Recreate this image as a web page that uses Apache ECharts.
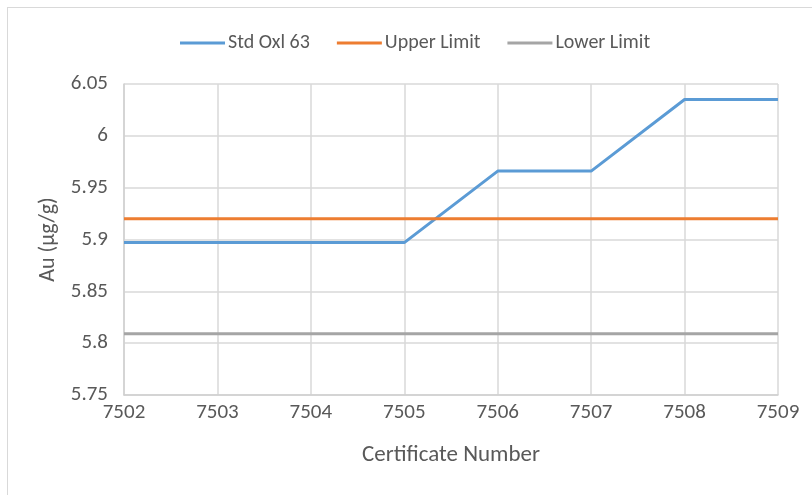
<!DOCTYPE html>
<html>
<head>
<meta charset="utf-8">
<script src="https://cdn.jsdelivr.net/npm/echarts@6/dist/echarts.min.js"></script>
<style>
  html, body { margin: 0; padding: 0; background: #fff; }
  #chart { width: 812px; height: 495px; }
  #frame { position: absolute; left: 7px; top: 7px; width: 820px; height: 500px; border: 1px solid #d9d9d9; pointer-events: none; }
</style>
</head>
<body>
<div id="chart"></div>
<div id="frame"></div>
<script>
const certificates = [7502, 7503, 7504, 7505, 7506, 7507, 7508, 7509];
const stdOxl63 = [5.897, 5.897, 5.897, 5.897, 5.966, 5.966, 6.035, 6.035];
const upperLimit = [5.92, 5.92, 5.92, 5.92, 5.92, 5.92, 5.92, 5.92];
const lowerLimit = [5.809, 5.809, 5.809, 5.809, 5.809, 5.809, 5.809, 5.809];
const yTicks = [5.75, 5.8, 5.85, 5.9, 5.95, 6, 6.05];

const font = 'Carlito, "Liberation Sans Narrow", "Open Sans", sans-serif';
const textColor = '#595959';

function pairs(ys) {
    return certificates.map((c, i) => [c, ys[i]]);
}

const chart = echarts.init(document.getElementById('chart'));
const option = {
    animation: false,
    textStyle: { fontFamily: font },
    color: ['#5b9bd5', '#ed7d31', '#a5a5a5'],
    legend: {
        top: 28,
        left: 175,
        itemWidth: 45,
        itemHeight: 3,
        itemGap: 27,
        icon: 'rect',
        textStyle: { fontFamily: font, fontSize: 20, color: textColor, padding: [0, 0, 0, -2] },
        data: ['Std Oxl 63', 'Upper Limit', 'Lower Limit']
    },
    grid: { left: 124, right: 34, top: 84, bottom: 100 },
    xAxis: {
        type: 'value',
        min: certificates[0],
        max: certificates[certificates.length - 1],
        interval: 1,
        name: 'Certificate Number',
        nameLocation: 'middle',
        nameGap: 49,
        nameTextStyle: { fontFamily: font, fontSize: 23, color: textColor },
        axisLine: { lineStyle: { color: '#d0d0d0', width: 1.5 } },
        axisTick: { show: false },
        splitLine: { show: true, lineStyle: { color: '#d9d9d9', width: 1.5 } },
        axisLabel: { fontFamily: font, fontSize: 21, color: textColor, margin: 7, formatter: v => String(v) }
    },
    yAxis: {
        type: 'value',
        min: yTicks[0],
        max: yTicks[yTicks.length - 1],
        interval: 0.05,
        name: 'Au (µg/g)',
        nameLocation: 'middle',
        nameRotate: 90,
        nameGap: 57,
        nameTextStyle: { fontFamily: font, fontSize: 22, color: textColor },
        axisLine: { show: true, lineStyle: { color: '#d0d0d0', width: 1.5 } },
        axisTick: { show: false },
        splitLine: { show: true, lineStyle: { color: '#d9d9d9', width: 1.5 } },
        axisLabel: {
            fontFamily: font, fontSize: 21, color: textColor, margin: 16,
            formatter: v => String(Math.round(v * 100) / 100)
        }
    },
    series: [
        { name: 'Std Oxl 63', type: 'line', data: pairs(stdOxl63), symbol: 'none', lineStyle: { width: 3 } },
        { name: 'Upper Limit', type: 'line', data: pairs(upperLimit), symbol: 'none', lineStyle: { width: 3 } },
        { name: 'Lower Limit', type: 'line', data: pairs(lowerLimit), symbol: 'none', lineStyle: { width: 3 } }
    ]
};
chart.setOption(option);
</script>
</body>
</html>
